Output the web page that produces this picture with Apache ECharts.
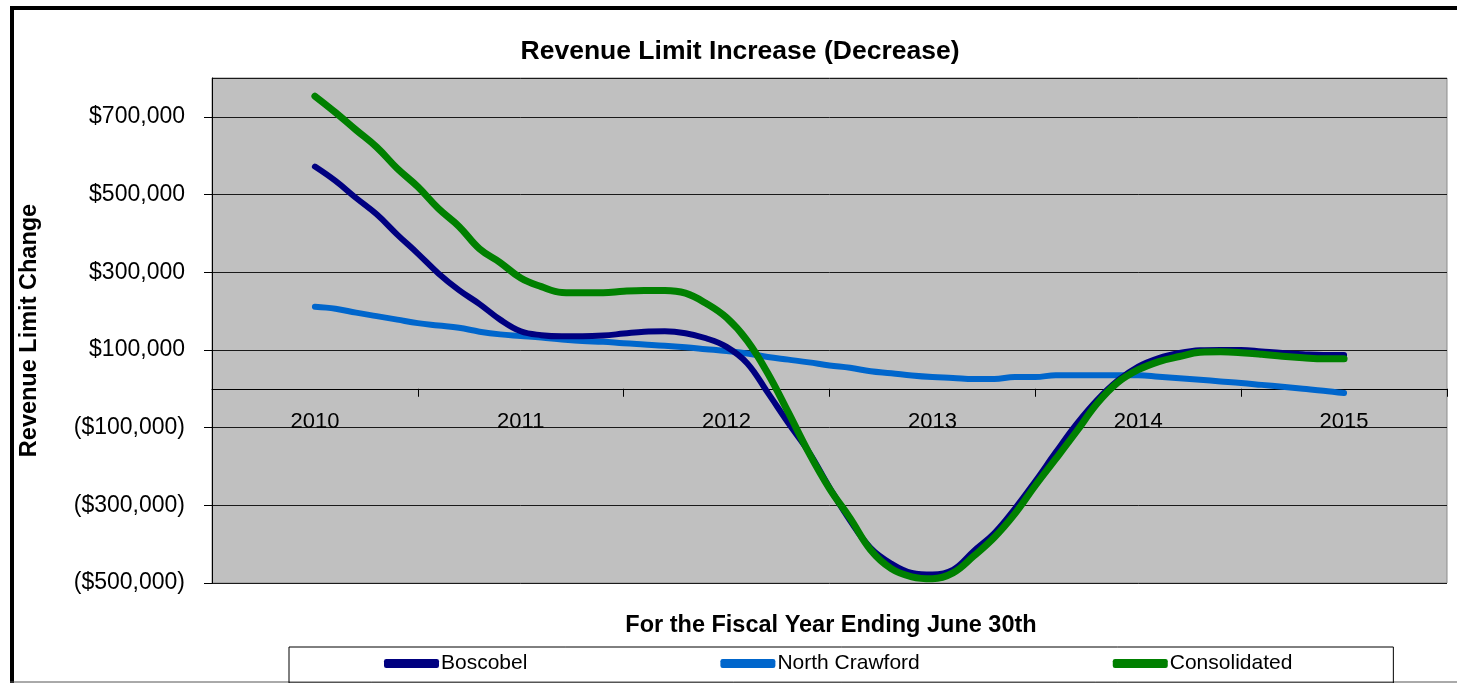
<!DOCTYPE html>
<html>
<head>
<meta charset="utf-8">
<script src="https://cdn.jsdelivr.net/npm/echarts@6/dist/echarts.min.js"></script>
<style>
html,body{margin:0;padding:0;background:#fff;}
#chart{width:1457px;height:683px;}
</style>
</head>
<body>
<div id="chart"></div>
<script>
// Fiscal-year categories
var years = ['2010', '2011', '2012', '2013', '2014', '2015'];
// Sample positions, in years after 2010
var samplePos = [0,0.1,0.2,0.3,0.4,0.5,0.6,0.7,0.8,0.9,1.0,1.1,1.2,1.3,1.4,1.5,1.6,1.7,1.8,1.9,2.0,2.1,2.2,2.3,2.4,2.5,2.6,2.7,2.8,2.9,3.0,3.1,3.2,3.3,3.4,3.5,3.6,3.7,3.8,3.9,4.0,4.1,4.2,4.3,4.4,4.5,4.6,4.7,4.8,4.9,5.0];
// Values in thousands of dollars
var boscobel = [572,535,491,449,397,348,297,254,218,178,148,138,135,135,137,142,147,148,143,130,108,66,-10,-88,-163,-254,-339,-410,-450,-474,-478,-466,-418,-372,-309,-238,-163,-91,-29,21,57,79,92,99,100,100,96,92,89,87,87];
var northCrawford = [211,206,196,187,178,169,163,157,147,140,136,132,127,123,121,117,114,111,107,102,97,91,82,75,68,60,54,45,40,34,30,28,25,25,30,30,35,35,35,35,35,31,27,23,19,15,10,5,0,-5,-11];
var consolidated = [753,711,666,622,567,520,464,418,360,325,285,263,248,247,247,251,253,253,246,220,183,124,40,-61,-165,-257,-333,-415,-463,-484,-489,-474,-431,-383,-322,-249,-180,-110,-38,16,49,70,83,94,95,93,89,84,80,77,77];
// Y axis range and label step
var yMin = -500000, yMax = 800000, yStep = 200000;

var GRID_H = 505;
function pts(arr) {
  return samplePos.map(function (p, i) { return [p, arr[i] * 1000]; });
}
function money(v) {
  var s = Math.abs(v).toLocaleString('en-US');
  return v < 0 ? '($' + s + ')' : '$' + s;
}

var FONT = '"Liberation Sans", Arial, sans-serif';
var chart = echarts.init(document.getElementById('chart'));
chart.setOption({
  backgroundColor: '#ffffff',
  animation: false,
  title: [{
    text: 'Revenue Limit Increase (Decrease)',
    left: 735, top: 33, textAlign: 'center',
    textStyle: { fontFamily: FONT, fontSize: 26.5, fontWeight: 'bold', color: '#000' }
  }, {
    text: 'For the Fiscal Year Ending June 30th',
    left: 826, top: 609, textAlign: 'center',
    textStyle: { fontFamily: FONT, fontSize: 23.5, fontWeight: 'bold', color: '#000' }
  }],
  legend: {
    left: 289, top: 647,
    padding: [6, 101, 9, 95],
    itemGap: 193,
    itemWidth: 55, itemHeight: 9,
    icon: 'roundRect',
    borderColor: '#000', borderWidth: 1,
    textStyle: { fontFamily: FONT, fontSize: 21, color: '#000', padding: [0, 0, 0, -3] },
    data: ['Boscobel', 'North Crawford', 'Consolidated']
  },
  graphic: [
    { type: 'line', shape: { x1: 12, y1: 6, x2: 12, y2: 683 }, style: { stroke: '#000', lineWidth: 4 } },
    { type: 'line', shape: { x1: 10, y1: 8, x2: 1457, y2: 8 }, style: { stroke: '#000', lineWidth: 4 } },
    { type: 'line', shape: { x1: 10, y1: 682, x2: 1457, y2: 682 }, style: { stroke: '#555', lineWidth: 1 } }
  ],
  grid: {
    left: 212, top: 78, width: 1235, height: GRID_H,
    show: true, backgroundColor: '#C0C0C0', borderColor: '#8c8c8c', borderWidth: 1
  },
  xAxis: [{
    type: 'category',
    data: years,
    boundaryGap: true,
    position: 'bottom',
    offset: -GRID_H * (0 - yMin) / (yMax - yMin),
    axisLine: { onZero: false, lineStyle: { color: '#000', width: 1 } },
    axisTick: { show: true, length: 8, lineStyle: { color: '#000' } },
    axisLabel: { margin: 22, fontFamily: FONT, fontSize: 22, color: '#000' },
    splitLine: { show: false }
  }, {
    type: 'value', min: -0.5, max: 5.5, show: false
  }],
  yAxis: {
    type: 'value',
    min: yMin, max: yMax, interval: yStep,
    axisLine: { show: true, onZero: false, lineStyle: { color: '#000', width: 1 } },
    axisTick: { show: true, length: 8, lineStyle: { color: '#000' } },
    axisLabel: {
      margin: 27, fontFamily: FONT, fontSize: 23, color: '#000',
      showMaxLabel: false,
      formatter: function (v) { return v >= yMax ? '' : money(v); }
    },
    splitLine: { show: true, lineStyle: { color: '#1a1a1a', width: 1 } },
    name: 'Revenue Limit Change',
    nameLocation: 'middle', nameRotate: 90, nameGap: 170,
    nameTextStyle: { fontFamily: FONT, fontSize: 23.5, fontWeight: 'bold', color: '#000' }
  },
  series: [{
    name: 'Boscobel', type: 'line', xAxisIndex: 1,
    data: pts(boscobel), showSymbol: false, symbol: 'none', smooth: 0.4, z: 3,
    itemStyle: { color: '#000080' },
    lineStyle: { color: '#000080', width: 6, cap: 'round', join: 'round' }
  }, {
    name: 'North Crawford', type: 'line', xAxisIndex: 1,
    data: pts(northCrawford), showSymbol: false, symbol: 'none', smooth: 0.4, z: 2,
    itemStyle: { color: '#0066CC' },
    lineStyle: { color: '#0066CC', width: 6, cap: 'round', join: 'round' }
  }, {
    name: 'Consolidated', type: 'line', xAxisIndex: 1,
    data: pts(consolidated), showSymbol: false, symbol: 'none', smooth: 0.4, z: 4,
    itemStyle: { color: '#008000' },
    lineStyle: { color: '#008000', width: 7, cap: 'round', join: 'round' }
  }]
});
</script>
</body>
</html>
